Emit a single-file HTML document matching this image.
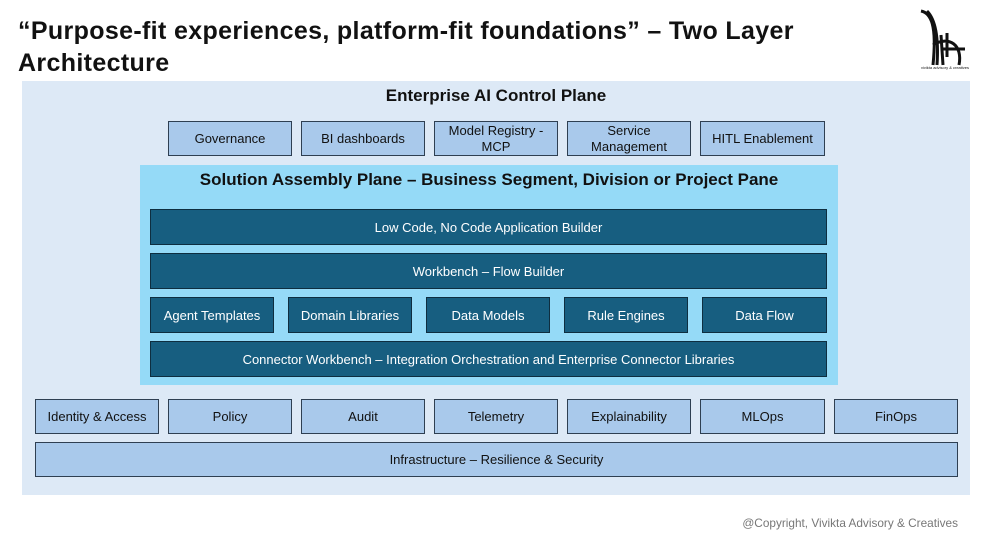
<!DOCTYPE html>
<html><head><style>
body{margin:0;width:984px;height:539px;background:#fff;position:relative;overflow:hidden;font-family:"Liberation Sans",sans-serif}
.a{position:absolute;box-sizing:border-box;display:flex;align-items:center;justify-content:center;text-align:center}
.l{background:#a9c9eb;border:1.5px solid #2e3f52;color:#111;font-size:13px;line-height:16px}
.d{background:#175e80;border:1.5px solid #0e2e40;color:#fff;font-size:13px}
</style></head><body>
<div style="position:absolute;left:18px;top:15px;font-size:25px;font-weight:bold;line-height:32px;color:#111;letter-spacing:0.35px">“Purpose-fit experiences, platform-fit foundations” – Two Layer<br>Architecture</div>
<svg style="position:absolute;left:913px;top:5px" width="64" height="66" viewBox="0 0 64 66">
<path d="M8 6 C18 8 24 20 20 60 M14 6 C22 14 26 30 24 60 M28 30 L30 60 M20 40 C36 30 50 40 46 60 M34 28 L34 52 M30 44 L52 44" stroke="#111" stroke-width="3" fill="none"/>
<text x="32" y="64" font-size="4" text-anchor="middle" fill="#111">vivikta advisory &amp; creatives</text></svg>
<div style="position:absolute;left:22px;top:81px;width:948px;height:414px;background:#dde9f6"></div>
<div class="a" style="left:22px;top:84px;width:948px;height:24px;font-size:17px;font-weight:bold;color:#111">Enterprise AI Control Plane</div>
<div class="a l" style="left:168px;top:121px;width:124px;height:35px">Governance</div>
<div class="a l" style="left:301px;top:121px;width:124px;height:35px">BI dashboards</div>
<div class="a l" style="left:434px;top:121px;width:124px;height:35px">Model Registry -<br>MCP</div>
<div class="a l" style="left:567px;top:121px;width:124px;height:35px">Service<br>Management</div>
<div class="a l" style="left:700px;top:121px;width:125px;height:35px">HITL Enablement</div>
<div style="position:absolute;left:140px;top:165px;width:698px;height:220px;background:#95daf7"></div>
<div class="a" style="left:140px;top:168px;width:698px;height:24px;font-size:17px;font-weight:bold;color:#111">Solution Assembly Plane – Business Segment, Division or Project Pane</div>
<div class="a d" style="left:150px;top:209px;width:677px;height:36px">Low Code, No Code Application Builder</div>
<div class="a d" style="left:150px;top:253px;width:677px;height:36px">Workbench – Flow Builder</div>
<div class="a d" style="left:150px;top:297px;width:124px;height:36px">Agent Templates</div>
<div class="a d" style="left:288px;top:297px;width:124px;height:36px">Domain Libraries</div>
<div class="a d" style="left:426px;top:297px;width:124px;height:36px">Data Models</div>
<div class="a d" style="left:564px;top:297px;width:124px;height:36px">Rule Engines</div>
<div class="a d" style="left:702px;top:297px;width:125px;height:36px">Data Flow</div>
<div class="a d" style="left:150px;top:341px;width:677px;height:36px">Connector Workbench – Integration Orchestration and Enterprise Connector Libraries</div>
<div class="a l" style="left:35px;top:399px;width:124px;height:35px">Identity &amp; Access</div>
<div class="a l" style="left:168px;top:399px;width:124px;height:35px">Policy</div>
<div class="a l" style="left:301px;top:399px;width:124px;height:35px">Audit</div>
<div class="a l" style="left:434px;top:399px;width:124px;height:35px">Telemetry</div>
<div class="a l" style="left:567px;top:399px;width:124px;height:35px">Explainability</div>
<div class="a l" style="left:700px;top:399px;width:125px;height:35px">MLOps</div>
<div class="a l" style="left:834px;top:399px;width:124px;height:35px">FinOps</div>
<div class="a l" style="left:35px;top:442px;width:923px;height:35px">Infrastructure – Resilience &amp; Security</div>
<div style="position:absolute;right:26px;top:516px;font-size:11.8px;color:#777">@Copyright, Vivikta Advisory &amp; Creatives</div>
</body></html>
